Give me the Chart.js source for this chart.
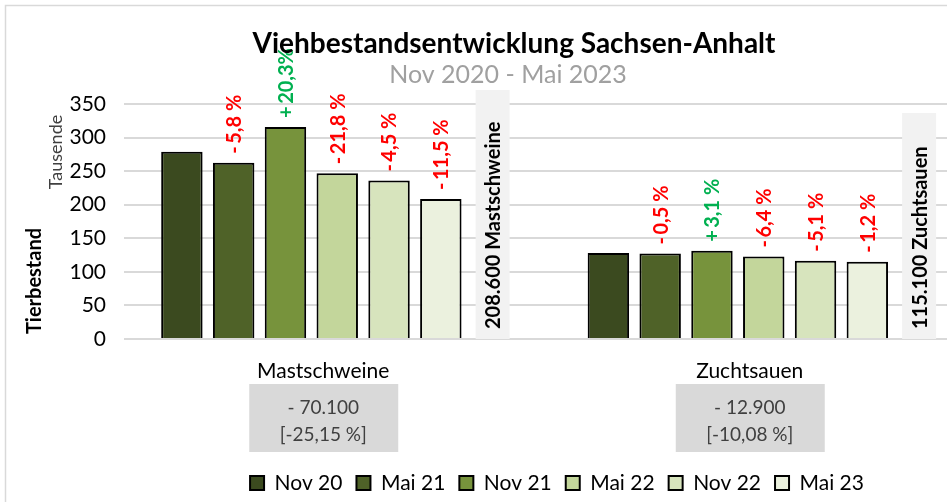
<!DOCTYPE html>
<html>
<head>
<meta charset="utf-8">
<script src="https://cdn.jsdelivr.net/npm/chart.js"></script>
<style>
  html, body { margin: 0; padding: 0; background: #fff; overflow: hidden; }
  #clip { width: 947px; height: 502px; overflow: hidden; position: relative; }
  #wrap { width: 1000px; height: 502px; position: absolute; left: 0; top: 0; }
</style>
</head>
<body>
<div id="clip"><div id="wrap"><canvas id="chart"></canvas></div></div>
<script>
// Daten (Tausende)
var categories = ['Mastschweine', 'Zuchtsauen'];
var periods = ['Nov 20', 'Mai 21', 'Nov 21', 'Mai 22', 'Nov 22', 'Mai 23'];
var mastschweine = [278.7, 262.5, 315.8, 247.0, 235.9, 208.6];
var zuchtsauen = [128.0, 127.4, 131.3, 122.9, 116.6, 115.1];
var changeMast = ['', '- 5,8 %', '+ 20,3%', '- 21,8 %', '- 4,5 %', '- 11,5 %'];
var changeZucht = ['', '- 0,5 %', '+ 3,1 %', '- 6,4 %', '- 5,1 %', '- 1,2 %'];
var stockLabels = ['208.600 Mastschweine', '115.100 Zuchtsauen'];
var totalChange = [['- 70.100', '[-25,15 %]'], ['- 12.900', '[-10,08 %]']];
var yTicks = [0, 50, 100, 150, 200, 250, 300, 350];

var colors = ['#3b4a1f', '#4f6228', '#77933c', '#c3d69b', '#d7e4bd', '#ebf1de'];
var FONT = 'Lato, Carlito, Calibri, sans-serif';

var datasets = periods.map(function (p, i) {
    return {
        label: p,
        data: [mastschweine[i], zuchtsauen[i]],
        backgroundColor: colors[i],
        borderColor: '#000',
        borderWidth: 2,
        borderSkipped: 'bottom',
        barPercentage: 0.8,
        categoryPercentage: 0.85
    };
});
// leerer Platz fuer die grauen Bestandsboxen
datasets.push({
    label: '',
    data: [null, null],
    backgroundColor: 'rgba(0,0,0,0)',
    barPercentage: 0.8,
    categoryPercentage: 0.85
});

var extras = {
    id: 'extras',
    afterLayout: function (chart) {
        var lg = chart.legend;
        if (!lg) return;
        var dx = 557 - (lg.left + lg.right) / 2;
        var dy = 481 - (lg.top + lg.bottom) / 2;
        lg.left += dx; lg.right += dx;
        lg.top += dy; lg.bottom += dy;
    },
    beforeDraw: function (chart) {
        var ctx = chart.ctx;
        ctx.save();
        ctx.fillStyle = '#fff';
        ctx.fillRect(0, 0, chart.width, chart.height);
        ctx.strokeStyle = '#d9d9d9';
        ctx.lineWidth = 1.5;
        ctx.strokeRect(5.5, 5.5, 1100, 1000);
        ctx.restore();
    },
    beforeDatasetsDraw: function (chart) {
        var ctx = chart.ctx;
        var area = chart.chartArea;
        var meta = chart.getDatasetMeta(6);
        var tops = [area.top - 14, area.top + 9];
        ctx.save();
        meta.data.forEach(function (el, j) {
            var w = 34;
            ctx.fillStyle = '#f2f2f2';
            ctx.fillRect(el.x - w / 2, tops[j], w, area.bottom - tops[j]);
            ctx.translate(el.x, area.bottom - 10);
            ctx.rotate(-Math.PI / 2);
            ctx.fillStyle = '#000';
            ctx.font = 'bold 20px ' + FONT;
            ctx.textAlign = 'left';
            ctx.textBaseline = 'middle';
            ctx.fillText(stockLabels[j], 0, 1);
            ctx.setTransform(1, 0, 0, 1, 0, 0);
        });
        ctx.restore();
    },
    afterDatasetsDraw: function (chart) {
        var ctx = chart.ctx;
        ctx.save();
        ctx.font = 'bold 20px ' + FONT;
        ctx.textAlign = 'left';
        ctx.textBaseline = 'middle';
        for (var i = 1; i < periods.length; i++) {
            var meta = chart.getDatasetMeta(i);
            [changeMast[i], changeZucht[i]].forEach(function (txt, j) {
                var el = meta.data[j];
                ctx.fillStyle = txt.charAt(0) === '+' ? '#00b050' : '#ff0000';
                ctx.translate(el.x, el.y - 9);
                ctx.rotate(-Math.PI / 2);
                ctx.fillText(txt.replace(' ', '\u2009'), 0, 1);
                ctx.setTransform(1, 0, 0, 1, 0, 0);
            });
        }
        ctx.restore();
    },
    afterDraw: function (chart) {
        var ctx = chart.ctx;
        var x = chart.scales.x;
        ctx.save();
        // Titel
        ctx.textAlign = 'center';
        ctx.textBaseline = 'alphabetic';
        ctx.fillStyle = '#000';
        ctx.font = 'bold 28px ' + FONT;
        ctx.fillText('Viehbestandsentwicklung Sachsen-Anhalt', 514, 53);
        ctx.fillStyle = '#a0a0a0';
        ctx.font = '25px ' + FONT;
        ctx.fillText('Nov 2020 - Mai 2023', 508, 83);
        // Achsentitel
        ctx.textBaseline = 'middle';
        ctx.fillStyle = '#000';
        ctx.font = 'bold 20px ' + FONT;
        ctx.translate(35, 281);
        ctx.rotate(-Math.PI / 2);
        ctx.fillText('Tierbestand', 0, 0);
        ctx.setTransform(1, 0, 0, 1, 0, 0);
        ctx.fillStyle = '#404040';
        ctx.font = '18px ' + FONT;
        ctx.translate(56, 152);
        ctx.rotate(-Math.PI / 2);
        ctx.fillText('Tausende', 0, 0);
        ctx.setTransform(1, 0, 0, 1, 0, 0);
        // Veraenderung gesamt
        categories.forEach(function (c, j) {
            var cx = x.getPixelForValue(j) + x.options.ticks.labelOffset;
            ctx.fillStyle = '#d9d9d9';
            ctx.fillRect(cx - 74, 384, 149, 68);
            ctx.fillStyle = '#404040';
            ctx.font = '19px ' + FONT;
            ctx.fillText(totalChange[j][0], cx, 408);
            ctx.fillText(totalChange[j][1], cx, 435);
        });
        ctx.restore();
    }
};

new Chart(document.getElementById('chart').getContext('2d'), {
    type: 'bar',
    data: { labels: categories, datasets: datasets },
    plugins: [extras],
    options: {
        responsive: true,
        maintainAspectRatio: false,
        animation: false,
        layout: { padding: { top: 104, left: 0, right: 23, bottom: 0 } },
        scales: {
            x: {
                grid: { display: false },
                border: { display: false },
                ticks: { color: '#000', font: { family: FONT, size: 21 }, padding: 12, labelOffset: -14 },
                afterFit: function (s) { s.height = 118; }
            },
            y: {
                min: 0,
                max: 350,
                afterBuildTicks: function (s) { s.ticks = yTicks.map(function (v) { return { value: v }; }); },
                grid: { color: '#d9d9d9', lineWidth: 2, drawTicks: false },
                border: { display: false },
                ticks: { color: '#000', font: { family: FONT, size: 21 }, padding: 18 },
                afterFit: function (s) { s.width = 124; }
            }
        },
        plugins: {
            title: { display: false },
            tooltip: { enabled: false },
            legend: {
                position: 'bottom',
                labels: {
                    color: '#000',
                    font: { family: FONT, size: 21 },
                    boxWidth: 14,
                    boxHeight: 14,
                    padding: 14,
                    filter: function (item) { return item.text !== ''; }
                }
            }
        }
    }
});
</script>
</body>
</html>
